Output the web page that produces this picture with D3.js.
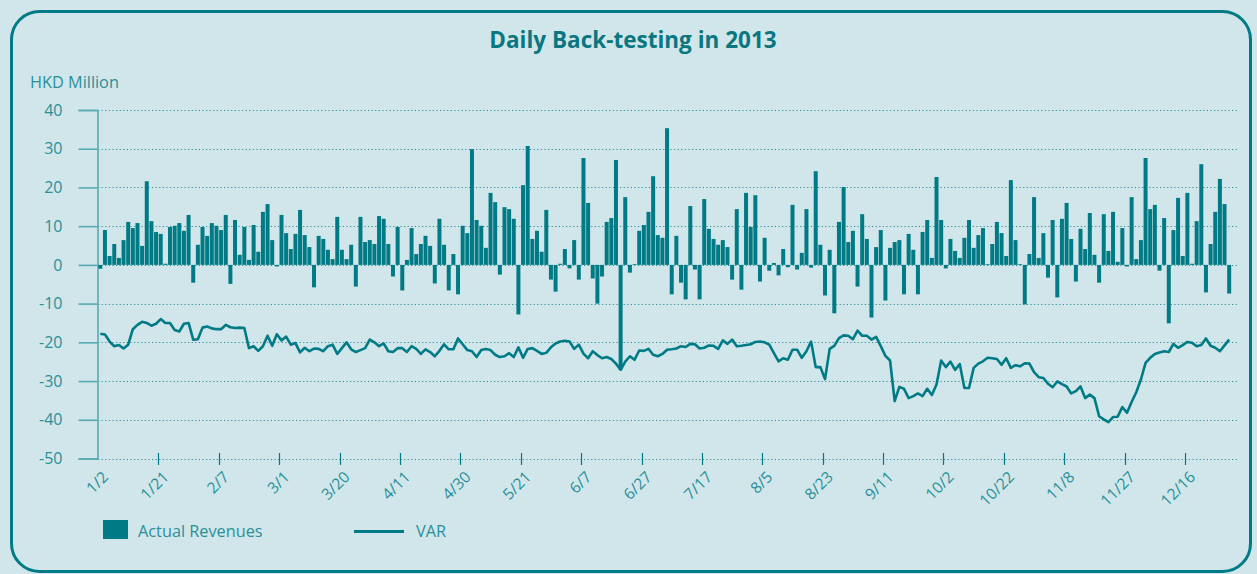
<!DOCTYPE html>
<html>
<head>
<meta charset="utf-8">
<script src="https://cdn.jsdelivr.net/npm/d3@7"></script>
<style>
  html, body { margin: 0; padding: 0; background: #d0e6ea; }
  svg { display: block; }
  text { font-family: "Open Sans", "Noto Sans", sans-serif; }
</style>
</head>
<body>
<svg id="chart" width="1257" height="574"></svg>
<script>
// Axis labels: one every 13 trading days
const tickLabels = ["1/2","1/21","2/7","3/1","3/20","4/11","4/30","5/21","6/7","6/27",
  "7/17","8/5","8/23","9/11","10/2","10/22","11/8","11/27","12/16"];
const tickEvery = 13;

// Daily actual revenues (HKD million), one per trading day
const revenue = [
  -1.0, 9.0, 2.3, 5.4, 1.8, 6.4, 11.1, 9.5, 10.8, 4.9,
  21.6, 11.3, 8.5, 8.0, 0.3, 9.8, 10.1, 10.8, 8.8, 12.9,
  -4.6, 5.2, 9.8, 7.5, 10.8, 10.1, 9.0, 12.9, -4.9, 11.6,
  2.6, 9.8, 1.3, 10.3, 3.4, 13.7, 15.7, 6.4, -0.4, 12.9,
  8.2, 4.1, 8.0, 14.2, 7.7, 4.6, -5.8, 7.5, 6.7, 3.9,
  1.5, 12.4, 3.9, 1.5, 5.2, -5.6, 12.4, 5.9, 6.4, 5.4,
  12.6, 11.9, 5.4, -3.0, 9.8, -6.6, 1.3, 9.5, 2.8, 5.4,
  7.5, 4.9, -4.8, 11.9, 5.2, -6.6, 2.8, -7.6, 10.1, 8.2,
  29.9, 11.6, 10.1, 4.4, 18.6, 16.2, -2.5, 14.9, 14.4, 11.9,
  -12.8, 20.6, 30.7, 6.7, 8.8, 3.4, 14.2, -3.8, -6.9, 0.3,
  4.1, -0.9, 6.4, -3.8, 27.6, 16.0, -3.5, -10.0, -3.0, 11.1,
  12.1, 27.1, -27.1, 17.5, -2.0, 0.2, 8.8, 10.3, 13.7, 22.9,
  7.7, 7.0, 35.3, -7.6, 7.5, -4.6, -8.9, 15.2, -1.2, -8.9,
  17.0, 9.3, 6.7, 5.2, 6.4, 4.6, -3.8, 14.4, -6.4, 18.6,
  9.8, 18.0, -4.3, 7.0, -1.5, 0.5, -2.7, 4.1, -0.6, 15.5,
  -1.2, 3.1, 14.4, -0.7, 24.2, 5.2, -7.9, 3.9, -12.5, 11.1,
  20.1, 5.9, 8.8, -5.6, 13.1, 6.7, -13.6, 4.6, 9.0, -9.2,
  4.4, 5.9, 6.4, -7.6, 8.0, 3.9, -7.6, 8.5, 11.6, 1.8,
  22.7, 11.6, -0.9, 6.7, 3.6, 1.8, 7.0, 11.6, 4.4, 7.7,
  9.5, 0.2, 5.4, 11.1, 8.2, 2.3, 21.9, 6.4, 0.2, -10.2,
  2.8, 17.5, 1.8, 8.2, -3.3, 11.6, -8.4, 11.9, 16.0, 6.7,
  -4.3, 9.3, 4.1, 13.4, 2.6, -4.6, 13.1, 3.6, 13.7, 0.8,
  9.5, -0.4, 17.5, 1.5, 6.4, 27.6, 14.4, 15.5, -1.5, 12.1,
  -15.1, 9.0, 17.3, 2.3, 18.6, 0.3, 11.3, 26.0, -7.1, 5.4,
  13.7, 22.2, 15.7, -7.4
];

// Daily value-at-risk (HKD million)
const varValues = [
  -17.8, -18.0, -19.8, -21.0, -20.7, -21.6, -20.6, -16.6, -15.5, -14.7,
  -15.0, -15.7, -15.2, -14.0, -15.0, -15.0, -16.8, -17.2, -15.2, -15.0,
  -19.3, -19.2, -16.2, -15.9, -16.4, -16.6, -16.6, -15.5, -16.1, -16.3,
  -16.2, -16.3, -21.5, -21.0, -22.2, -21.0, -18.3, -20.9, -17.9, -19.5,
  -18.5, -20.6, -20.2, -22.6, -21.4, -22.3, -21.6, -21.7, -22.3, -21.0,
  -20.6, -23.0, -21.5, -20.0, -21.8, -22.5, -22.0, -21.5, -19.3, -20.0,
  -21.0, -20.3, -22.3, -22.5, -21.5, -21.5, -22.5, -21.0, -21.7, -23.0,
  -21.8, -22.5, -23.6, -22.2, -20.5, -21.8, -21.8, -19.0, -20.5, -22.0,
  -22.3, -23.8, -22.0, -21.7, -22.0, -23.2, -23.8, -23.6, -22.8, -23.8,
  -21.3, -24.0, -21.7, -21.5, -22.2, -23.0, -22.7, -21.3, -20.3, -19.8,
  -19.6, -19.8, -21.7, -20.6, -22.9, -24.1, -22.3, -23.3, -24.1, -23.8,
  -24.3, -25.5, -27.1, -25.0, -23.6, -24.5, -22.1, -22.2, -21.7, -23.2,
  -23.6, -23.0, -21.9, -21.8, -21.6, -21.0, -21.2, -20.4, -20.5, -21.6,
  -21.4, -20.8, -20.9, -21.7, -19.5, -20.4, -19.3, -21.0, -20.9, -20.7,
  -20.5, -19.9, -19.8, -20.0, -20.6, -22.8, -24.9, -24.1, -24.5, -21.9,
  -21.9, -24.0, -22.3, -19.8, -26.4, -26.4, -29.5, -21.7, -20.9, -18.9,
  -18.2, -18.3, -19.2, -17.0, -18.3, -18.3, -19.3, -18.6, -21.0, -23.5,
  -24.7, -35.2, -31.5, -32.0, -34.4, -33.9, -33.2, -33.9, -32.0, -33.6,
  -30.9, -24.7, -26.4, -25.0, -27.1, -25.6, -31.8, -31.8, -26.6, -25.5,
  -24.9, -24.0, -24.1, -24.3, -25.8, -24.1, -26.6, -25.9, -26.2, -25.4,
  -25.5, -27.7, -29.0, -29.2, -30.7, -31.6, -30.1, -30.8, -31.4, -33.2,
  -32.6, -31.4, -34.4, -33.5, -34.4, -39.1, -39.9, -40.6, -39.3, -39.2,
  -36.7, -38.2, -35.4, -32.9, -29.6, -25.3, -24.0, -23.0, -22.6, -22.3,
  -22.5, -20.4, -21.4, -20.7, -19.9, -20.1, -21.0, -20.7, -19.0, -20.9,
  -21.4, -22.3, -20.8, -19.3
];

const yTicks = [40, 30, 20, 10, 0, -10, -20, -30, -40, -50];

const title = "Daily Back-testing in 2013";
const unitLabel = "HKD Million";
const seriesNames = ["Actual Revenues", "VAR"];

// ---- drawing ----
const W = 1257, H = 574;
const teal = "#007b85";
const textTeal = "#2a8f99";
const axisTeal = "#5aaab2";

const svg = d3.select("#chart");

// panel with rounded border
svg.append("rect")
  .attr("x", 0).attr("y", 0).attr("width", W).attr("height", H)
  .attr("fill", "#d0e6ea");
svg.append("rect")
  .attr("x", 11.5).attr("y", 11.5).attr("width", 1239).attr("height", 560)
  .attr("rx", 28).attr("ry", 28)
  .attr("fill", "none").attr("stroke", teal).attr("stroke-width", 3);

// title
svg.append("text")
  .attr("x", 633).attr("y", 48)
  .attr("text-anchor", "middle")
  .attr("font-size", 22.5).attr("font-weight", 700)
  .attr("fill", "#0a7780")
  .text(title);

svg.append("text")
  .attr("x", 30).attr("y", 88)
  .attr("font-size", 16.3).attr("fill", textTeal)
  .text(unitLabel);

const plotL = 98, plotR = 1231.5, gridR = 1238;
const x = d3.scaleBand()
  .domain(d3.range(revenue.length))
  .range([plotL, plotR])
  .paddingInner(0.14).paddingOuter(0.07);
const step = x.step();
const y = d3.scaleLinear().domain([-50, 40]).range([458.5, 110]);

// dotted horizontal gridlines
svg.append("g").selectAll("line")
  .data(yTicks)
  .join("line")
  .attr("x1", plotL).attr("x2", gridR)
  .attr("y1", d => Math.round(y(d)) + 0.5).attr("y2", d => Math.round(y(d)) + 0.5)
  .attr("stroke", "#2e8f99").attr("stroke-width", 1.2)
  .attr("stroke-dasharray", "1.2,2.4");

// y axis: line on the left with outward ticks, plain hyphen minus signs
const yAxis = d3.axisLeft(y).tickValues(yTicks).tickSize(19).tickPadding(16)
  .tickFormat(d => String(d));
const gy = svg.append("g")
  .attr("transform", `translate(${plotL - 0.5},0)`)
  .call(yAxis);
gy.select(".domain").attr("stroke", axisTeal).attr("stroke-width", 1.6);
gy.selectAll(".tick line").attr("stroke", axisTeal).attr("stroke-width", 1.6);
gy.selectAll(".tick text")
  .attr("fill", textTeal).attr("font-size", 16)
  .attr("font-family", '"Open Sans", "Noto Sans", sans-serif');

// bars
svg.append("g").selectAll("rect")
  .data(revenue)
  .join("rect")
  .attr("x", (d, i) => x(i))
  .attr("width", x.bandwidth())
  .attr("y", d => y(Math.max(0, d)))
  .attr("height", d => Math.abs(y(d) - y(0)))
  .attr("fill", teal);

// VAR line
const line = d3.line()
  .x((d, i) => x(i) + x.bandwidth() / 2)
  .y(d => y(d));
svg.append("path")
  .datum(varValues)
  .attr("d", line)
  .attr("fill", "none")
  .attr("stroke", teal)
  .attr("stroke-width", 2.6)
  .attr("stroke-linejoin", "round");

// x axis ticks (every 13 trading days) and rotated date labels
const tickIdx = tickLabels.map((_, k) => k * tickEvery);
const gx = svg.append("g");
gx.selectAll("line")
  .data(tickIdx.slice(1))
  .join("line")
  .attr("x1", i => Math.round(x(i) - step * 0.07) + 0.5)
  .attr("x2", i => Math.round(x(i) - step * 0.07) + 0.5)
  .attr("y1", 453).attr("y2", 465)
  .attr("stroke", teal).attr("stroke-width", 1.2);
gx.selectAll("text")
  .data(tickLabels)
  .join("text")
  .attr("transform", (d, k) => {
    const tx = x(tickIdx[k]) + 11;
    return `translate(${tx},478) rotate(-45)`;
  })
  .attr("text-anchor", "end")
  .attr("font-size", 15.5)
  .attr("fill", textTeal)
  .text(d => d);

// legend
const lg = svg.append("g");
lg.append("rect")
  .attr("x", 103).attr("y", 520).attr("width", 25).attr("height", 19)
  .attr("fill", teal);
lg.append("text")
  .attr("x", 138).attr("y", 537)
  .attr("font-size", 16.3).attr("fill", textTeal)
  .text(seriesNames[0]);
lg.append("line")
  .attr("x1", 354).attr("x2", 404).attr("y1", 531.5).attr("y2", 531.5)
  .attr("stroke", teal).attr("stroke-width", 3);
lg.append("text")
  .attr("x", 416).attr("y", 537)
  .attr("font-size", 16.3).attr("fill", textTeal)
  .text(seriesNames[1]);
</script>
</body>
</html>
